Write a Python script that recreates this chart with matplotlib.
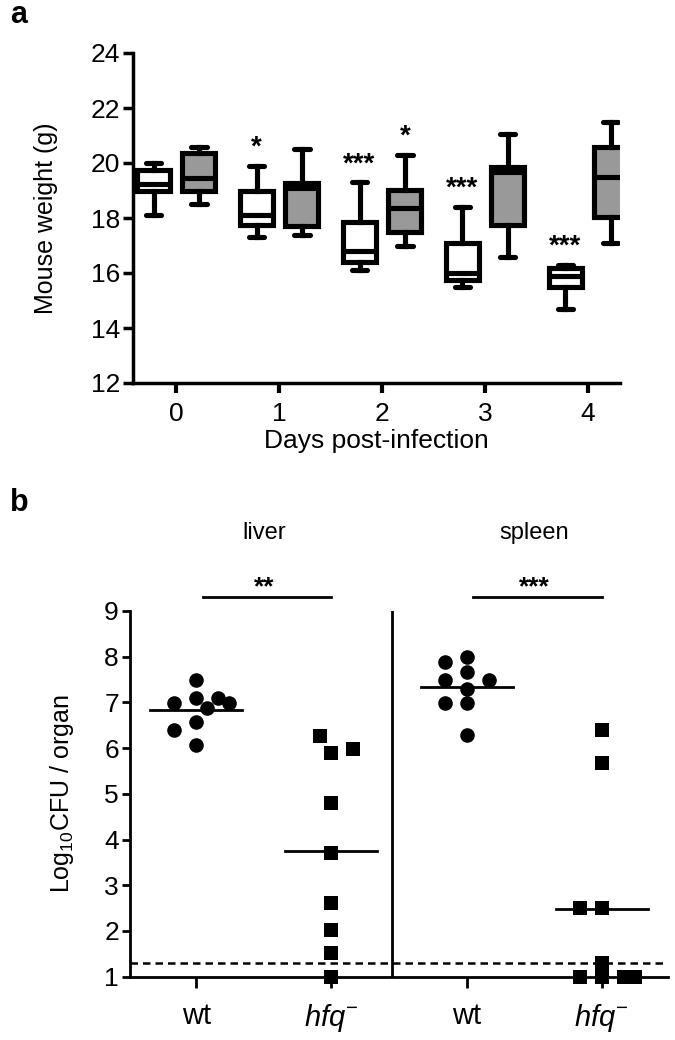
"""Mouse weight box plots (a) and organ CFU scatter (b)."""

import numpy as np
import matplotlib

matplotlib.use("Agg")
import matplotlib.pyplot as plt

plt.rcParams["font.family"] = ["Liberation Sans", "DejaVu Sans"]
plt.rcParams["mathtext.fontset"] = "custom"
plt.rcParams["mathtext.rm"] = "Liberation Sans"
plt.rcParams["mathtext.it"] = "Liberation Sans:italic"

# ---- panel a: weight per day (box stats) ----
days = [0, 1, 2, 3, 4]
wt_whishi = [20.0, 19.9, 19.3, 18.4, 16.3]
wt_q3 = [19.75, 19.0, 17.85, 17.1, 16.2]
wt_med = [19.25, 18.1, 16.8, 16.0, 15.9]
wt_q1 = [19.0, 17.75, 16.4, 15.75, 15.5]
wt_whislo = [18.1, 17.3, 16.1, 15.5, 14.7]

hfq_whishi = [20.6, 20.5, 20.3, 21.07, 21.5]
hfq_q3 = [20.38, 19.27, 19.03, 19.85, 20.6]
hfq_med = [19.45, 19.1, 18.38, 19.67, 19.5]
hfq_q1 = [19.0, 17.7, 17.5, 17.73, 18.05]
hfq_whislo = [18.5, 17.4, 17.0, 16.58, 17.1]

wt_sig = ["", "*", "***", "***", "***"]
hfq_sig = ["", "", "*", "", ""]

# ---- panel b: log10 CFU per organ ----
groups = ["wt", "hfq", "wt", "hfq"]
organs = ["liver", "spleen"]
liver_wt = [7.49, 7.09, 6.98, 7.09, 6.87, 6.98, 6.58, 6.40, 6.07]
liver_hfq = [5.89, 6.27, 5.98, 4.79, 3.70, 2.61, 2.02, 1.51, 1.00]
spleen_wt = [8.00, 7.89, 7.67, 7.49, 7.49, 7.29, 6.98, 6.98, 6.29]
spleen_hfq = [6.40, 5.68, 2.50, 2.50, 1.00, 1.00, 1.00, 1.00, 1.31]
detection_limit = 1.3
organ_sig = ["**", "***"]


def box_stats(whislo, q1, med, q3, whishi):
    return [
        dict(whislo=a, q1=b, med=c, q3=d, whishi=e, fliers=[])
        for a, b, c, d, e in zip(whislo, q1, med, q3, whishi)
    ]


def swarm_x(ax, x0, values, min_px=18.0, step_px=11.0):
    """Spread tied points sideways, a simple bee-swarm in pixel space."""
    pts = ax.transData.transform(np.column_stack([np.full(len(values), x0), values]))
    placed = []
    for px, py in pts:
        for k in [0, -1, 1, -2, 2, -3, 3]:
            cx = px + k * step_px
            if all(np.hypot(cx - qx, py - qy) >= min_px for qx, qy in placed):
                break
        placed.append((cx, py))
    return ax.transData.inverted().transform(np.array(placed))[:, 0]


fig = plt.figure(figsize=(6.75, 10.4), dpi=100)

# ---------------- panel a ----------------
ax_a = fig.add_axes([133 / 675, 1 - 383 / 1040, 487 / 675, 330 / 1040])
lw = 3.7
common = dict(
    widths=0.32,
    capwidths=0.15,
    patch_artist=True,
    showfliers=False,
    boxprops=dict(linewidth=lw, edgecolor="black"),
    whiskerprops=dict(linewidth=lw, color="black"),
    capprops=dict(linewidth=lw, color="black", solid_capstyle="round"),
    medianprops=dict(linewidth=lw, color="black"),
)
pos_wt = np.array(days) - 0.22
pos_hfq = np.array(days) + 0.22
b1 = ax_a.bxp(box_stats(wt_whislo, wt_q1, wt_med, wt_q3, wt_whishi), positions=pos_wt, **common)
b2 = ax_a.bxp(box_stats(hfq_whislo, hfq_q1, hfq_med, hfq_q3, hfq_whishi), positions=pos_hfq, **common)
for p in b1["boxes"]:
    p.set_facecolor("white")
for p in b2["boxes"]:
    p.set_facecolor("#999999")

for x, top, s in zip(pos_wt, wt_whishi, wt_sig):
    if s:
        ax_a.text(x, top + 0.4, s, ha="center", va="baseline", fontsize=20, fontweight="bold")
for x, top, s in zip(pos_hfq, hfq_whishi, hfq_sig):
    if s:
        ax_a.text(x, top + 0.4, s, ha="center", va="baseline", fontsize=20, fontweight="bold")

ax_a.set_xlim(-0.42, 4.31)
ax_a.set_ylim(12, 24)
ax_a.set_yticks(np.arange(12, 25, 2))
ax_a.set_xticks(days)
ax_a.set_xticklabels([str(d) for d in days])
for side in ["top", "right"]:
    ax_a.spines[side].set_visible(False)
for side in ["left", "bottom"]:
    ax_a.spines[side].set_linewidth(2.5)
ax_a.tick_params(axis="y", length=7, width=2.5, labelsize=19, pad=2)
ax_a.tick_params(axis="x", length=7, width=3, labelsize=19, pad=7)
ax_a.set_xlabel("Days post-infection", fontsize=19)
ax_a.xaxis.set_label_coords(0.5, -0.14)
ax_a.set_ylabel("Mouse weight (g)", fontsize=18)
ax_a.yaxis.set_label_coords(-0.153, 0.5)

# ---------------- panel b ----------------
ax_b = fig.add_axes([130 / 675, 1 - 976.7 / 1040, 538 / 675, 365.7 / 1040])
ax_b.set_xlim(-0.49, 3.49)
ax_b.set_ylim(1, 9)

series = [liver_wt, liver_hfq, spleen_wt, spleen_hfq]
markers = ["o", "s", "o", "s"]
spacing = [14.0, 18.0, 14.0, 11.5]
for i, (vals, m, gap) in enumerate(zip(series, markers, spacing)):
    xs = swarm_x(ax_b, i, vals, min_px=gap)
    ax_b.plot(xs, vals, ls="none", marker=m, ms=10.5, color="black",
              markeredgewidth=0, clip_on=False, zorder=3)
    mean = np.mean(vals)
    ax_b.plot([i - 0.34, i + 0.34], [mean, mean], color="black", lw=2, zorder=2)

ax_b.axhline(detection_limit, color="black", lw=1.8, ls=(0, (3, 2)), zorder=1)
ax_b.axvline(1.45, color="black", lw=2)

for k, (organ, s) in enumerate(zip(organs, organ_sig)):
    x0, x1 = 2 * k, 2 * k + 1
    ax_b.plot([x0 + 0.05, x1], [9.31, 9.31], color="black", lw=2, clip_on=False)
    ax_b.text((x0 + x1) / 2, 9.36, s, ha="center", va="baseline", fontsize=19, fontweight="bold")
    ax_b.text((x0 + x1) / 2, 10.7, organ, ha="center", va="center", fontsize=17)

ax_b.set_xticks(range(4))
ax_b.set_xticklabels(["wt" if g == "wt" else r"$\mathit{hfq}^{-}$" for g in groups])
ax_b.set_yticks(range(1, 10))
for side in ["top", "right"]:
    ax_b.spines[side].set_visible(False)
for side in ["left", "bottom"]:
    ax_b.spines[side].set_linewidth(2)
ax_b.tick_params(axis="y", length=6, width=2, labelsize=19, pad=2)
ax_b.tick_params(axis="x", length=8, width=2, labelsize=21, pad=10)
ax_b.set_ylabel(r"Log$_{10}$CFU / organ", fontsize=18)
ax_b.yaxis.set_label_coords(-0.1, 0.5)

fig.text(10 / 675, 1 - 15 / 1040, "a", fontsize=22, fontweight="bold", va="center")
fig.text(10 / 675, 1 - 503 / 1040, "b", fontsize=22, fontweight="bold", va="center")

fig.savefig("out.png", dpi=100)
